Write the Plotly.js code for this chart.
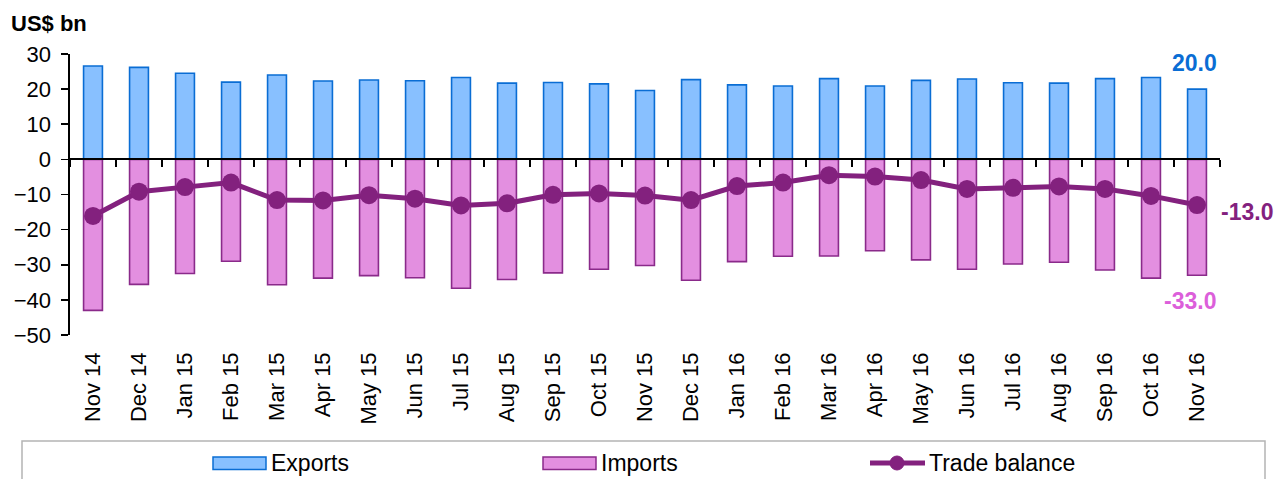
<!DOCTYPE html>
<html>
<head>
<meta charset="utf-8">
<script src="https://cdn.plot.ly/plotly-3.0.1.min.js"></script>
<style>
  html, body { margin: 0; padding: 0; background: #fff; }
  #chart { width: 1279px; height: 479px; }
</style>
</head>
<body>
<div id="chart"></div>
<script>
// Monthly trade figures, US$ bn
const months = ['Nov 14','Dec 14','Jan 15','Feb 15','Mar 15','Apr 15','May 15','Jun 15','Jul 15',
  'Aug 15','Sep 15','Oct 15','Nov 15','Dec 15','Jan 16','Feb 16','Mar 16','Apr 16','May 16',
  'Jun 16','Jul 16','Aug 16','Sep 16','Oct 16','Nov 16'];
const exportsBn = [26.6, 26.2, 24.5, 22.0, 24.0, 22.3, 22.6, 22.4, 23.3, 21.7, 21.9, 21.5, 19.6,
  22.7, 21.2, 20.9, 23.0, 20.9, 22.5, 22.9, 21.8, 21.7, 23.0, 23.3, 20.0];
const importsBn = [-43.0, -35.6, -32.5, -29.0, -35.7, -33.8, -33.1, -33.7, -36.7, -34.2, -32.3,
  -31.3, -30.2, -34.4, -29.1, -27.6, -27.5, -26.0, -28.6, -31.3, -29.8, -29.3, -31.5, -33.8, -33.0];
const balanceBn = [-16.1, -9.2, -7.9, -6.6, -11.6, -11.7, -10.2, -11.2, -13.1, -12.5, -10.1, -9.7,
  -10.3, -11.6, -7.6, -6.6, -4.5, -4.9, -5.9, -8.4, -8.1, -7.7, -8.4, -10.4, -13.0];
const seriesNames = ['Exports', 'Imports', 'Trade balance'];

const FONT = 'Liberation Sans, Arial, sans-serif';
const C_EXP = '#88C0FF', C_EXP_LINE = '#0A6DD4';
const C_IMP = '#E38FE0', C_IMP_LINE = '#8A2A8A';
const C_BAL = '#83217E';
const C_IMP_LABEL = '#DC5FDA';

// plot-area geometry in pixels, used to place the hand-drawn legend
const M = {l: 70, r: 59, t: 54, b: 144};
const W = 1279 - M.l - M.r, H = 479 - M.t - M.b;
const px = x => (x - M.l) / W;
const py = y => (M.t + H - y) / H;

const last = months.length - 1;

const traces = [
  {type: 'bar', name: seriesNames[0], x: months, y: exportsBn, width: 0.41,
   marker: {color: C_EXP, line: {color: C_EXP_LINE, width: 1.6}}, hoverinfo: 'x+y'},
  {type: 'bar', name: seriesNames[1], x: months, y: importsBn, width: 0.41,
   marker: {color: C_IMP, line: {color: C_IMP_LINE, width: 1.6}}, hoverinfo: 'x+y'},
  {type: 'scatter', mode: 'lines+markers', name: seriesNames[2], x: months, y: balanceBn,
   xaxis: 'x2', line: {color: C_BAL, width: 5}, marker: {color: C_BAL, size: 18}}
];

// legend drawn with shapes + text
const legendShapes = [
  {type: 'rect', xref: 'paper', yref: 'paper', x0: px(22), x1: px(1265), y0: py(441), y1: py(500),
   line: {color: '#B4B4B4', width: 1.5}, fillcolor: 'rgba(0,0,0,0)'},
  {type: 'rect', xref: 'paper', yref: 'paper', x0: px(213), x1: px(266), y0: py(457), y1: py(469.5),
   line: {color: C_EXP_LINE, width: 1.5}, fillcolor: C_EXP},
  {type: 'rect', xref: 'paper', yref: 'paper', x0: px(543), x1: px(596), y0: py(457), y1: py(469.5),
   line: {color: C_IMP_LINE, width: 1.5}, fillcolor: C_IMP},
  {type: 'line', xref: 'paper', yref: 'paper', x0: px(870), x1: px(925), y0: py(463), y1: py(463),
   line: {color: C_BAL, width: 5}},
  {type: 'circle', xref: 'paper', yref: 'paper', x0: px(890), x1: px(904), y0: py(456), y1: py(470),
   line: {color: C_BAL, width: 1}, fillcolor: C_BAL}
];

const legendText = [[269, seriesNames[0]], [599, seriesNames[1]], [927, seriesNames[2]]].map(([x, t]) => ({
  xref: 'paper', yref: 'paper', x: px(x), y: py(463), xanchor: 'left', yanchor: 'middle',
  text: t, showarrow: false, font: {family: FONT, size: 23, color: '#000'}
}));

const valueLabels = [
  {xref: 'x', yref: 'y', x: last, y: exportsBn[last], yshift: 26, xshift: -3, showarrow: false,
   text: '<b>' + exportsBn[last].toFixed(1) + '</b>', font: {family: FONT, size: 23, color: '#0A6DD4'}},
  {xref: 'x', yref: 'y', x: last, y: balanceBn[last], xanchor: 'left', xshift: 22, yshift: -7, showarrow: false,
   text: '<b>' + balanceBn[last].toFixed(1) + '</b>', font: {family: FONT, size: 23, color: C_BAL}},
  {xref: 'x', yref: 'y', x: last, y: importsBn[last], yshift: -26, xshift: -7, showarrow: false,
   text: '<b>' + importsBn[last].toFixed(1) + '</b>', font: {family: FONT, size: 23, color: C_IMP_LABEL}},
  {xref: 'paper', yref: 'paper', x: px(9), y: py(23), xanchor: 'left', yanchor: 'middle', showarrow: false,
   text: '<b>US$ bn</b>', font: {family: FONT, size: 22, color: '#000'}}
];

const layout = {
  width: 1279, height: 479,
  margin: M,
  paper_bgcolor: '#fff', plot_bgcolor: '#fff',
  barmode: 'relative',
  showlegend: false,
  font: {family: FONT, size: 22, color: '#000'},
  xaxis: {
    type: 'category', range: [-0.5, last + 0.5],
    showline: false, showgrid: false, zeroline: false, ticks: '',
    tickangle: -90, tickfont: {family: FONT, size: 22, color: '#000'},
    ticklabelstandoff: 12, fixedrange: true
  },
  // zero line with boundary ticks, sitting at y = 0
  xaxis2: {
    type: 'category', matches: 'x', overlaying: 'x', anchor: 'free', position: 50 / 80, side: 'bottom',
    showline: true, linecolor: '#000', linewidth: 2,
    ticks: 'outside', tickson: 'boundaries', ticklen: 7, tickwidth: 1.6, tickcolor: '#000',
    showticklabels: false, showgrid: false, zeroline: false, fixedrange: true
  },
  yaxis: {
    range: [-50, 30], dtick: 10, tick0: 0,
    showline: true, linecolor: '#000', linewidth: 1.6,
    ticks: 'outside', ticklen: 7, tickwidth: 1.6, tickcolor: '#000',
    showgrid: false, zeroline: false,
    tickfont: {family: FONT, size: 22, color: '#000'}, ticklabelstandoff: 6, fixedrange: true
  },
  shapes: legendShapes,
  annotations: valueLabels.concat(legendText)
};

Plotly.newPlot('chart', traces, layout, {displayModeBar: false, staticPlot: true});
</script>
</body>
</html>
